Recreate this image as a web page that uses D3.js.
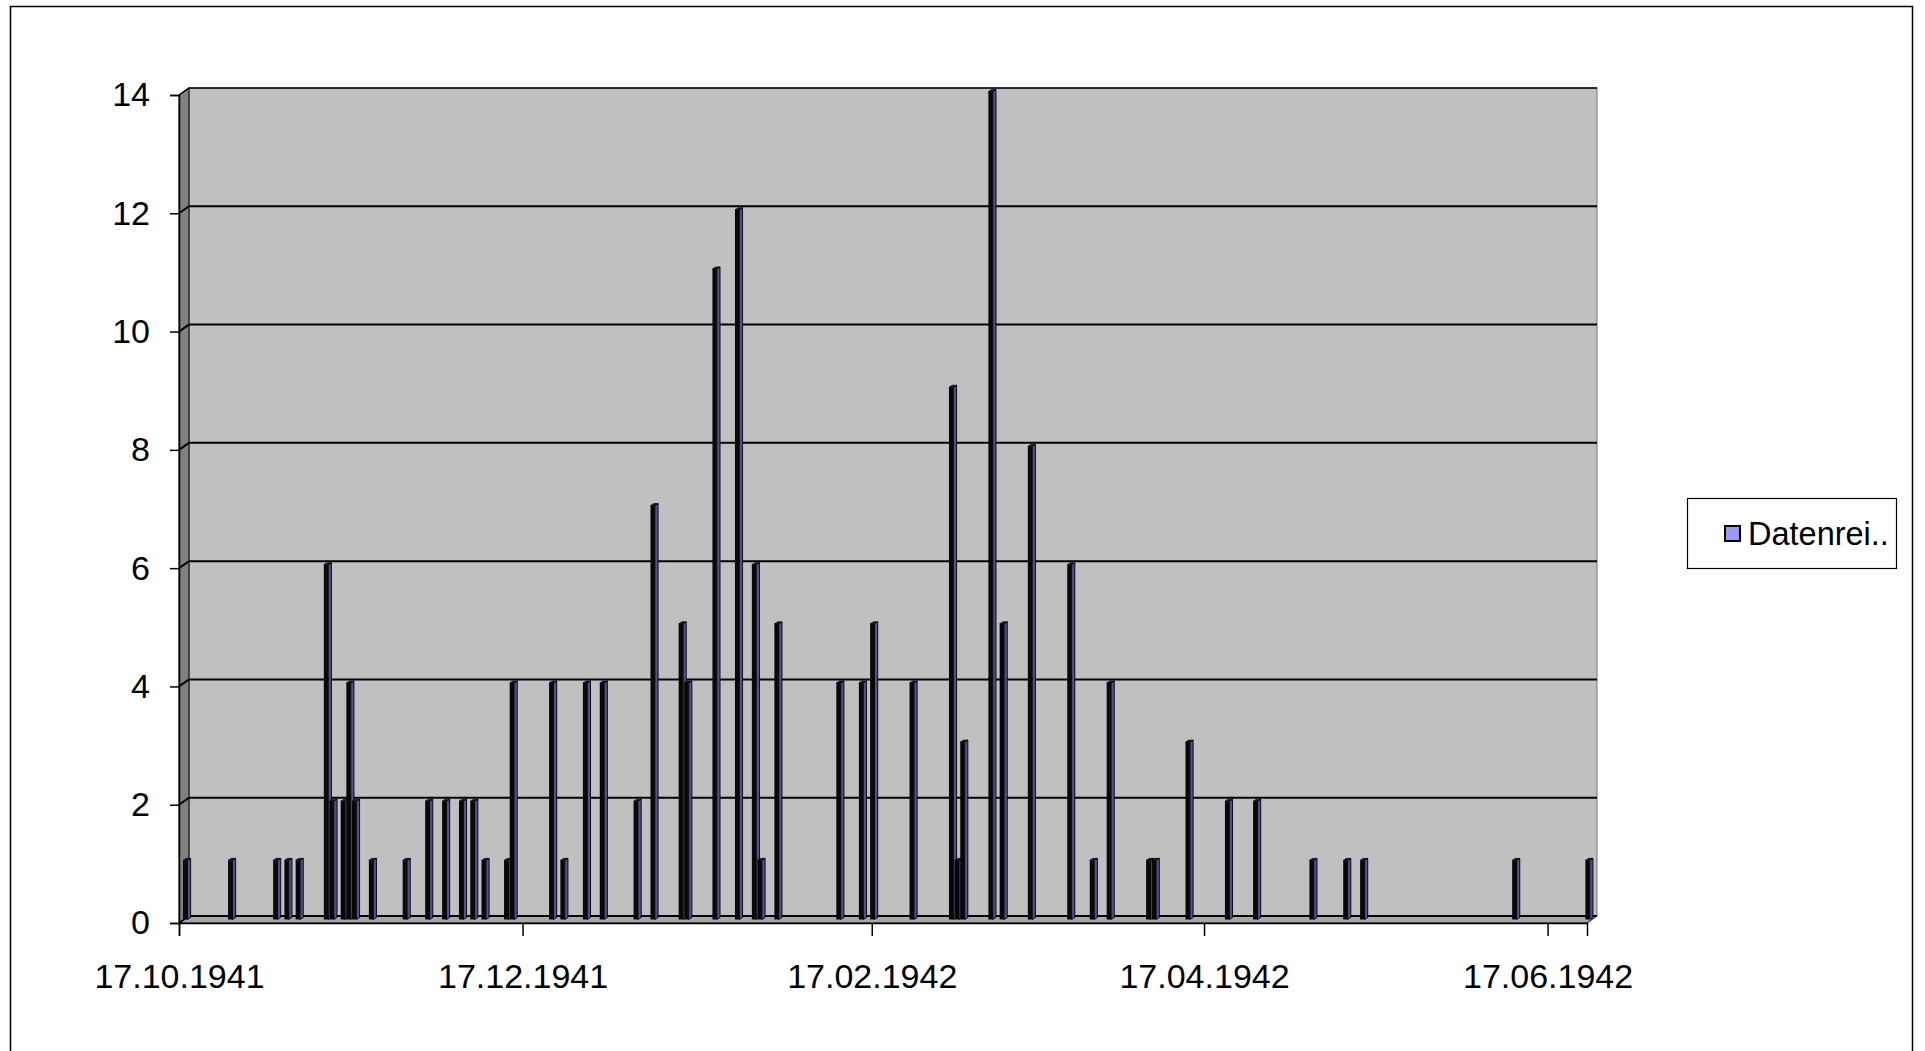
<!DOCTYPE html>
<html>
<head>
<meta charset="utf-8">
<script src="https://cdn.jsdelivr.net/npm/d3@7"></script>
<style>
  body { margin: 0; background: #fff; }
  text { font-family: "Liberation Sans", Arial, sans-serif; }
</style>
</head>
<body>
<div id="chart"></div>
<script>
// data
const dates = [
    "17.10.1941", "25.10.1941",
    "02.11.1941", "04.11.1941", "06.11.1941", "11.11.1941", "12.11.1941", "14.11.1941",
    "15.11.1941", "16.11.1941", "19.11.1941", "25.11.1941", "29.11.1941",
    "02.12.1941", "05.12.1941", "07.12.1941", "09.12.1941", "13.12.1941", "14.12.1941",
    "21.12.1941", "23.12.1941", "27.12.1941", "30.12.1941",
    "05.01.1942", "08.01.1942", "13.01.1942", "14.01.1942", "19.01.1942", "23.01.1942",
    "26.01.1942", "27.01.1942", "30.01.1942",
    "10.02.1942", "14.02.1942", "16.02.1942", "23.02.1942",
    "02.03.1942", "03.03.1942", "04.03.1942", "09.03.1942", "11.03.1942", "16.03.1942",
    "23.03.1942", "27.03.1942", "30.03.1942",
    "06.04.1942", "07.04.1942", "13.04.1942", "20.04.1942", "25.04.1942",
    "05.05.1942", "11.05.1942", "14.05.1942",
    "10.06.1942", "23.06.1942"
];
const values = [
    1, 1,
    1, 1, 1, 6, 2, 2,
    4, 2, 1, 1, 2,
    2, 2, 2, 1, 1, 4,
    4, 1, 4, 4,
    2, 7, 5, 4, 11, 12,
    6, 1, 5,
    4, 4, 5, 4,
    9, 1, 3, 14, 5, 8,
    6, 1, 4,
    1, 1, 3, 2, 2,
    1, 1, 1,
    1, 1
];
const xTickLabels = ["17.10.1941", "17.12.1941", "17.02.1942", "17.04.1942", "17.06.1942"];
const yTicks = [0, 2, 4, 6, 8, 10, 12, 14];
const seriesName = "Datenrei..";

const parseDate = d3.timeParse("%d.%m.%Y");
const data = dates.map((d, i) => ({ date: parseDate(d), value: values[i] }));

// dimensions
const width = 1925, height = 1051;
const front = { left: 179, right: 1587, top: 95, bottom: 923 };
const depth = { dx: 10, dy: -7 };

const svg = d3.select("#chart").append("svg")
    .attr("width", width)
    .attr("height", height);

// outer frame
svg.append("rect")
    .attr("x", 10.5).attr("y", 6.5)
    .attr("width", 1902).attr("height", 1050)
    .attr("fill", "#fff")
    .attr("stroke", "#000")
    .attr("stroke-width", 1.5);

// scales
const x = d3.scaleTime()
    .domain([parseDate("17.10.1941"), d3.timeDay.offset(parseDate("23.06.1942"), 1)])
    .range([front.left, front.right]);
const dayW = x(d3.timeDay.offset(x.domain()[0], 1)) - x(x.domain()[0]);

const y = d3.scaleLinear()
    .domain([0, 14])
    .range([front.bottom, front.top]);

// walls
const backL = front.left + depth.dx, backR = front.right + depth.dx;
svg.append("rect")
    .attr("x", backL).attr("y", y(14) + depth.dy)
    .attr("width", backR - backL).attr("height", y(0) - y(14))
    .attr("fill", "#c0c0c0")
    .attr("stroke", "#777")
    .attr("stroke-width", 1);

svg.append("polygon")
    .attr("points", [
        [front.left, y(14)], [backL, y(14) + depth.dy],
        [backL, y(0) + depth.dy], [front.left, y(0)]
    ].join(" "))
    .attr("fill", "#808080")
    .attr("stroke", "#000")
    .attr("stroke-width", 1);

svg.append("polygon")
    .attr("points", [
        [front.left, y(0)], [backL, y(0) + depth.dy],
        [backR, y(0) + depth.dy], [front.right, y(0)]
    ].join(" "))
    .attr("fill", "#a8a8a8")
    .attr("stroke", "#000")
    .attr("stroke-width", 1);

// gridlines on the back wall and the side wall
svg.append("g").selectAll("path")
    .data(yTicks)
    .join("path")
    .attr("d", v => `M${front.left},${y(v)}L${backL},${y(v) + depth.dy}L${backR},${y(v) + depth.dy}`)
    .attr("fill", "none")
    .attr("stroke", "#000")
    .attr("stroke-width", v => v === 14 ? 1.5 : 2);

// bars
const bars = svg.append("g");
const half = 3.8;
data.forEach(d => {
    const cx = x(d.date) + dayW / 2 + depth.dx / 2;
    const yb = y(0) + depth.dy / 2;
    const yt = y(d.value) + depth.dy / 2;
    // side face
    bars.append("polygon")
        .attr("points", [[cx + 0.6, yt], [cx + half, yt - 2], [cx + half, yb - 2], [cx + 0.6, yb]].join(" "))
        .attr("fill", "#50508c")
        .attr("stroke", "#000")
        .attr("stroke-width", 0.9);
    // front face
    bars.append("rect")
        .attr("x", cx - half).attr("y", yt)
        .attr("width", half + 0.6).attr("height", yb - yt)
        .attr("fill", "#080808");
    // top
    bars.append("polygon")
        .attr("points", [[cx - half, yt], [cx - half + 3.2, yt - 2], [cx + half, yt - 2], [cx + 0.6, yt]].join(" "))
        .attr("fill", "#1a1a2a")
        .attr("stroke", "#000")
        .attr("stroke-width", 0.6);
});

// y axis
const yAxis = d3.axisLeft(y)
    .tickValues(yTicks)
    .tickSize(9)
    .tickPadding(20)
    .tickFormat(d3.format("d"));

svg.append("g")
    .attr("transform", `translate(${front.left},0)`)
    .call(yAxis)
    .call(g => g.select(".domain").attr("stroke", "#000").attr("stroke-width", 1.5))
    .call(g => g.selectAll(".tick line").attr("stroke", "#000").attr("stroke-width", 1.5))
    .call(g => g.selectAll("text")
        .attr("fill", "#000")
        .style("font-size", "34px")
        .style("font-family", "'Liberation Sans', Arial, sans-serif"));

// x axis
const xAxis = d3.axisBottom(x)
    .tickValues(xTickLabels.map(parseDate))
    .tickSize(13)
    .tickPadding(28)
    .tickFormat(d3.timeFormat("%d.%m.%Y"));

svg.append("g")
    .attr("transform", `translate(0,${front.bottom})`)
    .call(xAxis)
    .call(g => g.select(".domain").attr("stroke", "#000").attr("stroke-width", 1.5))
    .call(g => g.selectAll(".tick line").attr("stroke", "#000").attr("stroke-width", 1.5))
    .call(g => g.selectAll("text")
        .attr("fill", "#000")
        .style("font-size", "34px")
        .style("font-family", "'Liberation Sans', Arial, sans-serif"));

// legend
const legend = svg.append("g").attr("transform", "translate(1687,498)");
legend.append("rect")
    .attr("x", 0.5).attr("y", 0.5)
    .attr("width", 209).attr("height", 70)
    .attr("fill", "#fff")
    .attr("stroke", "#000")
    .attr("stroke-width", 1.2);
legend.append("rect")
    .attr("x", 38).attr("y", 28)
    .attr("width", 15).attr("height", 15)
    .attr("fill", "#9999ff")
    .attr("stroke", "#000")
    .attr("stroke-width", 2);
legend.append("text")
    .attr("x", 61).attr("y", 47)
    .style("font-size", "32.5px")
    .text(seriesName);
</script>
</body>
</html>
